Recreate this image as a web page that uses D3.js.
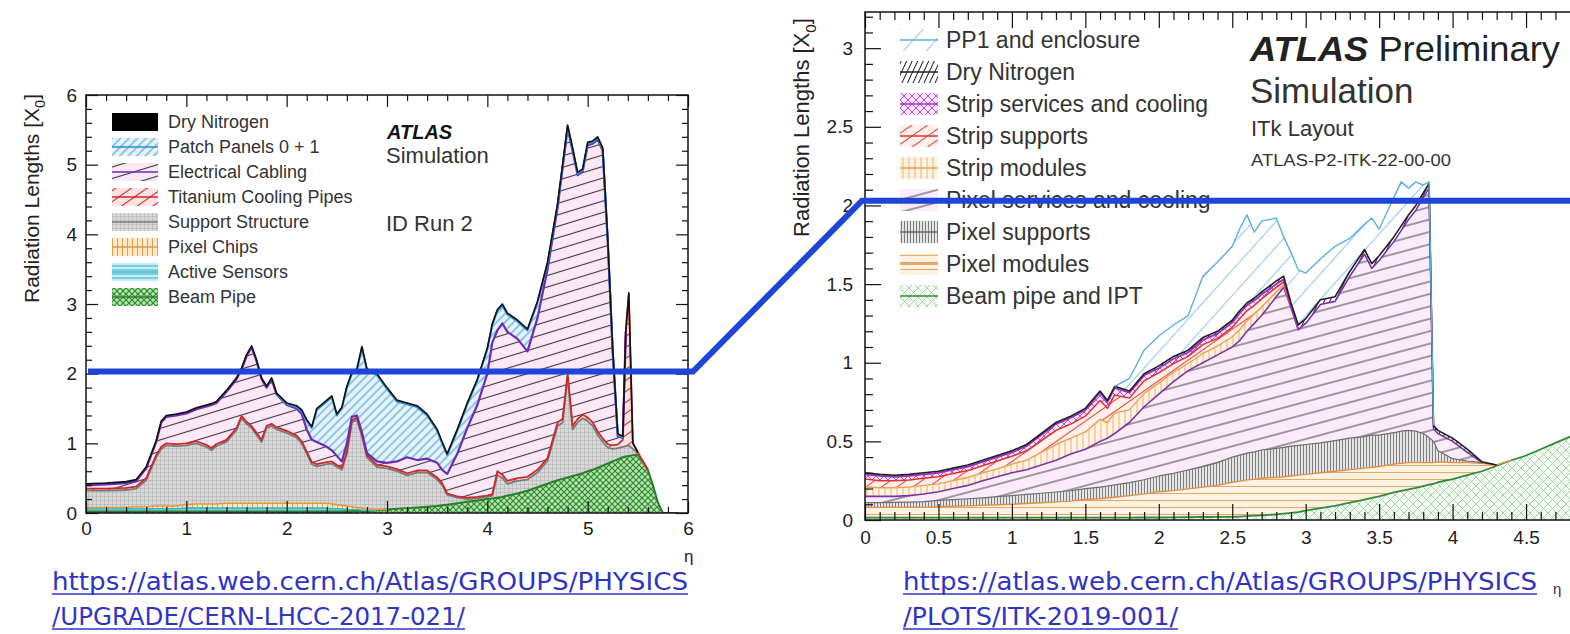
<!DOCTYPE html>
<html><head><meta charset="utf-8">
<script src="https://cdn.jsdelivr.net/npm/d3@7"></script>
<style>
body{margin:0;background:#fff;}
svg{display:block;}
text{font-family:"Liberation Sans",Arial,Helvetica,sans-serif;}
</style>
</head><body>
<svg id="c" width="1570" height="634"></svg>
<script>
// ================= LEFT PANEL DATA (ID Run 2) =================
const etaL = [0,0.2,0.4,0.5,0.6,0.7,0.75,0.8,0.9,1.0,1.1,1.2,1.25,1.3,1.4,1.5,1.55,1.6,1.65,1.7,1.75,1.8,1.85,1.9,2.0,2.1,2.15,2.2,2.25,2.3,2.4,2.45,2.5,2.55,2.6,2.65,2.7,2.75,2.8,2.9,3.0,3.1,3.2,3.3,3.4,3.5,3.55,3.6,3.7,3.8,3.9,4.0,4.05,4.1,4.15,4.2,4.3,4.4,4.5,4.6,4.7,4.75,4.8,4.85,4.9,4.95,5.0,5.05,5.1,5.15,5.2,5.25,5.3,5.35,5.38,5.41,5.45,5.5,5.6,5.65,5.7,5.75,5.9];
const beamPipeL = [.02,.02,.02,.02,.02,.02,.02,.02,.02,.02,.02,.02,.02,.02,.02,.02,.02,.02,.02,.02,.02,.02,.02,.02,.02,.02,.02,.02,.02,.02,.02,.02,.02,.02,.02,.03,.03,.03,.03,.04,.05,.06,.07,.08,.09,.10,.11,.12,.14,.16,.18,.20,.21,.22,.23,.25,.28,.32,.37,.42,.47,.49,.51,.53,.55,.57,.60,.62,.65,.68,.71,.74,.77,.80,.81,.82,.83,.84,.62,.40,.15,0,0];
const activeSensorsL = [.04,.04,.04,.04,.04,.04,.04,.04,.04,.05,.05,.05,.05,.05,.05,.05,.05,.05,.05,.05,.05,.05,.05,.05,.05,.05,.05,.05,.05,.05,.05,.04,.04,.04,.03,.02,.02,.01,.01,0,0,0,0,0,0,0,0,0,0,0,0,0,0,0,0,0,0,0,0,0,0,0,0,0,0,0,0,0,0,0,0,0,0,0,0,0,0,0,0,0,0,0,0];
const pixelChipsL = [.02,.02,.02,.03,.03,.04,.04,.04,.04,.05,.06,.06,.06,.06,.07,.07,.07,.07,.07,.07,.07,.07,.07,.07,.07,.07,.07,.07,.07,.07,.07,.07,.06,.05,.05,.04,.03,.03,.02,.01,0,0,0,0,0,0,0,0,0,0,0,0,0,0,0,0,0,0,0,0,0,0,0,0,0,0,0,0,0,0,0,0,0,0,0,0,0,0,0,0,0,0,0];
const supportStructureL = [.24,.24,.25,.26,.38,.70,.82,.87,.86,.85,.87,.82,.77,.83,.88,1.05,1.22,1.14,1.08,.98,.88,1.08,1.11,1.06,1.01,.94,.86,.71,.56,.53,.56,.58,.54,.51,.75,1.21,1.26,1.03,.74,.61,.59,.54,.47,.50,.49,.38,.29,.14,.08,.04,.03,.03,.04,.33,.27,.17,.18,.16,.21,.33,.78,.81,1.44,.67,.75,.79,.72,.63,.47,.34,.23,.18,.16,.15,.15,.15,.09,.02,0,0,0,0,0];
const tiCoolingL = [.03,.03,.03,.03,.03,.03,.03,.03,.03,.03,.03,.03,.03,.03,.03,.03,.03,.03,.03,.03,.03,.03,.03,.03,.03,.03,.03,.03,.03,.03,.03,.03,.03,.03,.03,.03,.03,.03,.03,.03,.03,.03,.03,.03,.03,.03,.03,.02,.02,.02,.02,.02,.02,.05,.05,.04,.04,.04,.04,.04,.05,.05,.05,.05,.05,.05,.05,.05,.05,.05,.05,.05,.05,.10,1.64,2.17,.08,.01,0,0,0,0,0];
const elecCablingL = [.05,.06,.07,.08,.14,.19,.35,.38,.41,.43,.46,.55,.62,.59,.69,.70,.67,.94,1.13,1.03,.87,.55,.64,.47,.37,.39,.39,.32,.32,.32,.22,.16,.13,.09,.12,.05,.03,.03,.03,.05,.05,.11,.23,.15,.17,.21,.19,.28,.61,1.0,1.32,1.75,2.18,2.02,2.17,2.14,2.0,1.80,2.18,2.71,3.08,3.60,3.52,3.95,3.50,3.49,3.91,4.0,4.19,4.13,2.91,1.33,.12,.03,0,0,0,0,0,0,0,0,0];
const patchPanelsL = [0,0,0,0,0,0,0,0,0,0,0,0,0,0,0,0,0,0,0,0,0,0,0,0,.01,.02,.04,.12,.17,.46,.65,.76,.58,.76,.80,.62,.65,1.21,1.19,1.24,1.06,.86,.76,.76,.62,.46,.38,.27,.33,.34,.35,.35,.25,.28,.26,.25,.25,.30,.22,.08,.04,.03,.03,.02,.02,.02,.02,.02,.02,.02,.02,.02,.02,0,0,0,0,0,0,0,0,0,0];
const dryNitrogenL = [.02,.02,.02,.02,.02,.02,.02,.02,.02,.02,.02,.02,.02,.02,.02,.02,.02,.02,.02,.02,.02,.02,.02,.02,.02,.02,.02,.02,.02,.02,.02,.02,.02,.02,.02,.02,.02,.02,.02,.02,.02,.02,.02,.02,.02,.02,.02,.02,.02,.02,.02,.02,.02,.02,.02,.02,.02,.02,.02,.02,.02,.02,.02,.02,.02,.02,.02,.02,.02,.02,.02,.02,.02,.02,.02,.02,.01,0,0,0,0,0,0];
const legendL = ["Dry Nitrogen","Patch Panels 0 + 1","Electrical Cabling","Titanium Cooling Pipes","Support Structure","Pixel Chips","Active Sensors","Beam Pipe"];
const xTicksL = [0,1,2,3,4,5,6];
const yTicksL = [0,1,2,3,4,5,6];

// ================= RIGHT PANEL DATA (ITk) =================
const etaR = [0,0.1,0.2,0.3,0.4,0.5,0.6,0.7,0.8,0.9,1.0,1.1,1.2,1.3,1.4,1.5,1.6,1.65,1.7,1.8,1.9,2.0,2.1,2.2,2.3,2.4,2.5,2.55,2.6,2.65,2.7,2.8,2.85,2.9,2.95,3.0,3.1,3.2,3.3,3.4,3.45,3.5,3.6,3.65,3.7,3.75,3.8,3.84,3.87,3.9,4.0,4.1,4.2,4.3,4.4,4.5,4.6,4.7,4.8];
const beamPipeR = [.015,.015,.015,.015,.015,.015,.015,.015,.015,.015,.015,.015,.015,.015,.015,.015,.015,.015,.015,.015,.016,.016,.017,.018,.019,.02,.02,.022,.025,.028,.03,.036,.04,.045,.05,.06,.075,.09,.11,.13,.14,.15,.175,.185,.195,.205,.215,.225,.23,.24,.26,.285,.31,.345,.38,.41,.45,.49,.53];
const pixelModulesR = [.065,.065,.065,.065,.065,.07,.072,.075,.078,.082,.085,.09,.095,.10,.105,.115,.12,.125,.13,.14,.15,.164,.17,.18,.19,.20,.22,.225,.23,.23,.235,.235,.235,.235,.235,.23,.225,.22,.21,.2,.195,.19,.18,.175,.17,.16,.15,.14,.135,.13,.105,.08,.05,.005,0,0,0,0,0];
const pixelSupportsR = [.03,.03,.032,.034,.037,.04,.042,.045,.048,.051,.055,.058,.06,.063,.066,.07,.074,.076,.078,.083,.09,.10,.11,.12,.13,.145,.16,.165,.17,.175,.18,.185,.187,.19,.19,.19,.19,.195,.2,.2,.205,.2,.2,.205,.205,.2,.185,.16,.135,.07,.025,.01,.005,0,0,0,0,0,0];
const pixelServicesR = [.04,.04,.038,.041,.048,.055,.071,.085,.109,.127,.145,.157,.18,.202,.234,.25,.291,.304,.327,.382,.464,.52,.583,.632,.661,.685,.70,.728,.775,.817,.855,.964,1.018,.88,.735,.77,.88,.885,1.03,1.16,1.06,1.11,1.215,1.275,1.34,1.405,1.50,1.585,.08,.11,.11,.055,0,0,0,0,0,0,0];
const stripModulesR = [.06,.055,.055,.055,.055,.05,.05,.05,.05,.05,.055,.06,.08,.10,.10,.11,.14,.10,.13,.08,.085,.07,.06,.045,.06,.055,.065,.07,.065,.06,.055,.03,.015,0,0,0,0,0,0,0,0,0,0,0,0,0,0,0,0,0,0,0,0,0,0,0,0,0,0];
const stripSupportsR = [.05,.045,.045,.045,.045,.045,.045,.045,.045,.05,.05,.06,.075,.09,.09,.10,.12,.09,.115,.075,.08,.065,.055,.045,.055,.05,.06,.07,.065,.055,.05,.03,.02,0,0,0,0,0,0,0,0,0,0,0,0,0,0,0,0,0,0,0,0,0,0,0,0,0,0];
const stripServicesR = [.03,.03,.025,.025,.025,.025,.025,.025,.025,.025,.025,.03,.035,.04,.04,.04,.05,.04,.045,.035,.035,.03,.03,.025,.03,.03,.03,.035,.035,.03,.03,.02,.015,.01,0,0,0,0,0,0,0,0,0,0,0,0,0,0,0,0,0,0,0,0,0,0,0,0,0];
const dryNitrogenR = [.01,.01,.01,.01,.01,.01,.01,.01,.01,.01,.01,.01,.01,.01,.01,.01,.01,.01,.01,.01,.01,.015,.015,.015,.015,.015,.015,.015,.015,.015,.015,.02,.02,.02,.03,.03,.03,.03,.03,.03,.03,.03,.03,.03,.03,.03,.03,.03,.02,.02,.02,.02,.005,0,0,0,0,0,0];
const pp1EnclosureR = [0,0,0,0,0,0,0,0,0,0,0,0,0,0,0,0,0,0,0,.08,.15,.19,.20,.22,.39,.44,.47,.52,.56,.42,.45,.40,.25,.32,.35,.29,.26,.32,.21,.16,.29,.17,.25,.28,.17,.15,.05,.01,0,0,0,0,0,0,0,0,0,0,0];
const legendR = ["PP1 and enclosure","Dry Nitrogen","Strip services and cooling","Strip supports","Strip modules","Pixel services and cooling","Pixel supports","Pixel modules","Beam pipe and IPT"];
const xTicksR = [0,0.5,1,1.5,2,2.5,3,3.5,4,4.5];
const yTicksR = [0,0.5,1,1.5,2,2.5,3];

// ================= DRAWING =================
const svg = d3.select("#c");
const defs = svg.append("defs");

function pattern(id, o) {
  const p = defs.append("pattern").attr("id", id).attr("patternUnits", "userSpaceOnUse")
    .attr("width", o.w).attr("height", o.h);
  if (o.rot) p.attr("patternTransform", `rotate(${o.rot})`);
  if (o.bg) p.append("rect").attr("width", o.w).attr("height", o.h).attr("fill", o.bg);
  (o.lines || []).forEach(l => p.append("line")
    .attr("x1", l[0]).attr("y1", l[1]).attr("x2", l[2]).attr("y2", l[3])
    .attr("stroke", l[4] || o.c).attr("stroke-width", o.sw || 1));
}
// left patterns
pattern("pL_dry", {w: 4, h: 4, bg: "#000"});
pattern("pL_patch", {w: 6, h: 6, rot: 45, bg: "#e6f3fb", c: "#4aa0d8", sw: 1.1, lines: [[3,0,3,6]]});
pattern("pL_elec", {w: 14, h: 11, rot: -17, bg: "#fce7f7", c: "#3a3a3a", sw: 1.1, lines: [[0,5.5,14,5.5]]});
pattern("pL_ti", {w: 9, h: 9, rot: -35, bg: "#fde3e3", c: "#c83030", sw: 1.1, lines: [[0,4.5,9,4.5]]});
pattern("pL_sup", {w: 4, h: 4, bg: "#d8d8d8", c: "#a8a8a8", sw: 0.9, lines: [[0,0,0,4],[0,0,4,0]]});
pattern("pL_chips", {w: 5, h: 5, bg: "#fde8c8", c: "#e3a050", sw: 1, lines: [[2.5,0,2.5,5]]});
pattern("pL_act", {w: 5, h: 4, bg: "#c3eef6", c: "#38b2ca", sw: 1, lines: [[0,2,5,2]]});
pattern("pL_beam", {w: 6, h: 6, bg: "#b9e2b2", c: "#2e8b2e", sw: 1.2, lines: [[0,0,6,6],[0,6,6,0]]});
// right patterns
pattern("pR_pp1", {w: 17, h: 17, rot: 42, c: "#8ec8ec", sw: 1, lines: [[8.5,0,8.5,17]]});
pattern("pR_dry", {w: 5, h: 5, rot: 25, c: "#222", sw: 1, lines: [[2.5,0,2.5,5]]});
pattern("pR_sserv", {w: 8, h: 8, bg: "#f5e5fb", c: "#b050d8", sw: 1, lines: [[0,0,8,8],[0,8,8,0]]});
pattern("pR_ssup", {w: 9, h: 9, rot: -35, bg: "#fff0ec", c: "#e04848", sw: 1.1, lines: [[0,4.5,9,4.5]]});
pattern("pR_smod", {w: 6, h: 6, bg: "#fff3e4", c: "#f0b070", sw: 1, lines: [[3,0,3,6]]});
pattern("pR_pserv", {w: 16, h: 12, rot: -15, bg: "#fcecfb", c: "#444", sw: 1, lines: [[0,6,16,6]]});
pattern("pR_psup", {w: 3, h: 6, bg: "#e4e4e4", c: "#808080", sw: 1, lines: [[1.5,0,1.5,6]]});
pattern("pR_pmod", {w: 6, h: 7, bg: "#fff2e3", c: "#e8a868", sw: 1, lines: [[0,3.5,6,3.5]]});
pattern("pR_bp", {w: 9, h: 9, bg: "#f3faf3", c: "#a6d6a6", sw: 1, lines: [[0,0,9,9],[0,9,9,0]]});

const fmt = d3.format("~g");

function drawAxes(g, x, y, o) {
  const [xa, xb] = x.range(), [yb, ya] = y.range();
  const mk = (fn, sc, vals, size, lab, pad) => fn(sc).tickValues(vals).tickSizeInner(-size).tickSizeOuter(0)
    .tickPadding(pad).tickFormat(lab ? fmt : "");
  const add = (tr, ax) => g.append("g").attr("transform", tr).call(ax);
  add(`translate(0,${yb})`, mk(d3.axisBottom, x, o.xMin, o.min, false, 0));
  add(`translate(0,${yb})`, mk(d3.axisBottom, x, o.xMaj, o.maj, true, o.padX));
  add(`translate(0,${ya})`, mk(d3.axisTop, x, o.xMin, o.min, false, 0));
  add(`translate(0,${ya})`, mk(d3.axisTop, x, o.xMaj, o.maj, false, 0));
  add(`translate(${xa},0)`, mk(d3.axisLeft, y, o.yMin, o.min, false, 0));
  add(`translate(${xa},0)`, mk(d3.axisLeft, y, o.yMaj, o.maj, true, o.padY));
  add(`translate(${xb},0)`, mk(d3.axisRight, y, o.yMin, o.min, false, 0));
  add(`translate(${xb},0)`, mk(d3.axisRight, y, o.yMaj, o.maj, false, 0));
  g.selectAll(".domain").remove();
  g.selectAll(".tick line").attr("stroke", "#111").attr("stroke-width", 1.2);
  g.selectAll(".tick text").attr("font-size", o.fs).attr("fill", "#222")
    .style("font-family", '"Liberation Sans",Arial,sans-serif');
  g.append("rect").attr("x", xa).attr("y", ya).attr("width", xb - xa).attr("height", yb - ya)
    .attr("fill", "none").attr("stroke", "#111").attr("stroke-width", 1.5);
}

function drawStack(g, eta, series, keys, style, x, y, clipId) {
  const rows = eta.map((e, i) => { const r = {eta: e}; keys.forEach(k => r[k] = series[k][i]); return r; });
  const st = d3.stack().keys(keys)(rows);
  const area = d3.area().x(d => x(d.data.eta)).y0(d => y(d[0])).y1(d => y(d[1]));
  const gg = g.append("g").attr("clip-path", `url(#${clipId})`);
  st.forEach(s => gg.append("path").attr("d", area(s)).attr("fill", style[s.key].fill).attr("stroke", "none"));
  st.forEach(s => {
    const vals = series[s.key];
    const line = d3.line().x(d => x(d.data.eta)).y(d => y(d[1]))
      .defined((d, i) => style[s.key].always || vals[i] > 0 || vals[i - 1] > 0 || vals[i + 1] > 0);
    gg.append("path").attr("d", line(s)).attr("fill", "none")
      .attr("stroke", style[s.key].line).attr("stroke-width", style[s.key].lw || 1.6)
      .attr("stroke-linejoin", "round");
  });
}

function clip(id, x0, y0, x1, y1) {
  defs.append("clipPath").attr("id", id).append("rect")
    .attr("x", x0).attr("y", y0).attr("width", x1 - x0).attr("height", y1 - y0);
}

function yTitle(xp, yp, fs) {
  const t = svg.append("text").attr("transform", `translate(${xp},${yp}) rotate(-90)`)
    .attr("text-anchor", "end").attr("font-size", fs).attr("fill", "#222");
  t.append("tspan").text("Radiation Lengths [X");
  t.append("tspan").attr("font-size", fs * 0.7).attr("dy", fs * 0.3).text("0");
  t.append("tspan").attr("dy", -fs * 0.3).text("]");
}

// ---------- LEFT ----------
const xL = d3.scaleLinear().domain([0, 6]).range([86, 688]);
const yL = d3.scaleLinear().domain([0, 6]).range([513, 95]);
clip("clipL", 86, 95, 688, 513);
const gL = svg.append("g");
const keysL = ["beam", "active", "chips", "support", "ti", "elec", "patch", "dry"];
const seriesL = {beam: beamPipeL, active: activeSensorsL, chips: pixelChipsL, support: supportStructureL,
  ti: tiCoolingL, elec: elecCablingL, patch: patchPanelsL, dry: dryNitrogenL};
const styleL = {
  beam: {fill: "url(#pL_beam)", line: "#2a7f2a", lw: 2, always: true},
  active: {fill: "url(#pL_act)", line: "#3ab6cc"},
  chips: {fill: "url(#pL_chips)", line: "#e09a40"},
  support: {fill: "url(#pL_sup)", line: "#7a7a7a", lw: 1.8},
  ti: {fill: "url(#pL_ti)", line: "#cc2a2a", lw: 1.8},
  elec: {fill: "url(#pL_elec)", line: "#6a2cb4", lw: 2.2},
  patch: {fill: "url(#pL_patch)", line: "#2a8fd0", lw: 2},
  dry: {fill: "#000", line: "#111", lw: 1.6}
};
drawStack(gL, etaL, seriesL, keysL, styleL, xL, yL, "clipL");
drawAxes(gL, xL, yL, {
  xMaj: xTicksL, xMin: d3.range(0, 6.01, 0.2).filter(v => Math.abs(v - Math.round(v)) > 1e-6),
  yMaj: yTicksL, yMin: d3.range(0, 6.01, 0.2).filter(v => Math.abs(v - Math.round(v)) > 1e-6),
  maj: 12, min: 6, padX: 9, padY: 9, fs: 19
});
yTitle(39, 94, 21);
svg.append("text").attr("x", 684).attr("y", 562).attr("font-size", 17).attr("fill", "#222").text("η");

// left legend
const legKeysL = ["dry", "patch", "elec", "ti", "support", "chips", "active", "beam"];
legendL.forEach((lab, i) => {
  const cy = 122 + i * 25;
  const k = legKeysL[i];
  gL.append("rect").attr("x", 112).attr("y", cy - 9).attr("width", 46).attr("height", 18).attr("fill", styleL[k].fill);
  if (k !== "dry") gL.append("line").attr("x1", 112).attr("x2", 158).attr("y1", cy).attr("y2", cy)
    .attr("stroke", styleL[k].line).attr("stroke-width", 1.6);
  gL.append("text").attr("x", 168).attr("y", cy + 6).attr("font-size", 18).attr("fill", "#333").text(lab);
});
gL.append("text").attr("x", 387).attr("y", 139).attr("font-size", 20).attr("font-weight", "bold")
  .attr("font-style", "italic").attr("fill", "#111").text("ATLAS");
gL.append("text").attr("x", 386).attr("y", 163).attr("font-size", 22).attr("fill", "#333").text("Simulation");
gL.append("text").attr("x", 386).attr("y", 231).attr("font-size", 22).attr("fill", "#333").text("ID Run 2");

// ---------- RIGHT ----------
const xR = d3.scaleLinear().domain([0, 5]).range([865, 865 + 5 * 146.9]);
const yR = d3.scaleLinear().domain([0, 3.23]).range([520, 12]);
clip("clipR", 865, 12, 1570, 520);
const gR = svg.append("g");
const keysR = ["bp", "pmod", "psup", "pserv", "smod", "ssup", "sserv", "dry", "pp1"];
const seriesR = {bp: beamPipeR, pmod: pixelModulesR, psup: pixelSupportsR, pserv: pixelServicesR,
  smod: stripModulesR, ssup: stripSupportsR, sserv: stripServicesR, dry: dryNitrogenR, pp1: pp1EnclosureR};
const styleR = {
  bp: {fill: "url(#pR_bp)", line: "#2f8a3c", lw: 1.8, always: true},
  pmod: {fill: "url(#pR_pmod)", line: "#e09048", lw: 1.4},
  psup: {fill: "url(#pR_psup)", line: "#6e6e6e", lw: 1.2},
  pserv: {fill: "url(#pR_pserv)", line: "#7a34a8", lw: 1.6},
  smod: {fill: "url(#pR_smod)", line: "#f0a050", lw: 1.4},
  ssup: {fill: "url(#pR_ssup)", line: "#e03030", lw: 1.5},
  sserv: {fill: "url(#pR_sserv)", line: "#9a30c8", lw: 1.8},
  dry: {fill: "url(#pR_dry)", line: "#222", lw: 1.6},
  pp1: {fill: "url(#pR_pp1)", line: "#5ab0e0", lw: 1.4}
};
drawStack(gR, etaR, seriesR, keysR, styleR, xR, yR, "clipR");
drawAxes(gR, xR, yR, {
  xMaj: xTicksR, xMin: d3.range(0, 5.001, 0.1).filter(v => Math.abs(v * 2 - Math.round(v * 2)) > 1e-6),
  yMaj: yTicksR, yMin: d3.range(0, 3.2001, 0.1).filter(v => Math.abs(v * 2 - Math.round(v * 2)) > 1e-6),
  maj: 16, min: 8, padX: 11, padY: 12, fs: 19
});
yTitle(809, 18, 22);
svg.append("text").attr("x", 1553).attr("y", 594).attr("font-size", 15).attr("fill", "#333").text("η");

const legKeysR = ["pp1", "dry", "sserv", "ssup", "smod", "pserv", "psup", "pmod", "bp"];
legendR.forEach((lab, i) => {
  const cy = 40 + i * 32;
  const k = legKeysR[i];
  gR.append("rect").attr("x", 900).attr("y", cy - 11).attr("width", 38).attr("height", 22).attr("fill", styleR[k].fill);
  gR.append("line").attr("x1", 900).attr("x2", 938).attr("y1", cy).attr("y2", cy)
    .attr("stroke", styleR[k].line).attr("stroke-width", 1.4);
  gR.append("text").attr("x", 946).attr("y", cy + 8).attr("font-size", 23).attr("fill", "#333").text(lab);
});
const at = gR.append("text").attr("x", 1250).attr("y", 61).attr("font-size", 35).attr("fill", "#222")
  .attr("textLength", 310).attr("lengthAdjust", "spacingAndGlyphs");
at.append("tspan").attr("font-weight", "bold").attr("font-style", "italic").text("ATLAS");
at.append("tspan").text(" Preliminary");
gR.append("text").attr("x", 1250).attr("y", 103).attr("font-size", 35).attr("fill", "#333").text("Simulation");
gR.append("text").attr("x", 1251).attr("y", 136).attr("font-size", 22).attr("fill", "#333").text("ITk Layout");
gR.append("text").attr("x", 1251).attr("y", 166).attr("font-size", 16).attr("fill", "#333")
  .attr("textLength", 200).attr("lengthAdjust", "spacingAndGlyphs").text("ATLAS-P2-ITK-22-00-00");

// ---------- blue annotation lines ----------
const blue = "#1f45d8";
const yl = yL(2.03), yr = yR(2.03);
svg.append("path").attr("d", `M88,${yl} L693,${yl} L862,${yr} L1570,${yr}`)
  .attr("fill", "none").attr("stroke", blue).attr("stroke-width", 6).attr("stroke-linejoin", "miter");

// ---------- URLs ----------
function url(x0, y0, str, len) {
  svg.append("text").attr("x", x0).attr("y", y0).attr("font-size", 24).attr("fill", "#3034c4")
    .style("font-family", '"DejaVu Sans Condensed","DejaVu Sans",sans-serif')
    .attr("textLength", len).attr("lengthAdjust", "spacingAndGlyphs").text(str);
  svg.append("line").attr("x1", x0).attr("x2", x0 + len).attr("y1", y0 + 4).attr("y2", y0 + 4)
    .attr("stroke", "#3034c4").attr("stroke-width", 1.5);
}
url(52, 590, "https://atlas.web.cern.ch/Atlas/GROUPS/PHYSICS", 636);
url(52, 625, "/UPGRADE/CERN-LHCC-2017-021/", 413);
url(903, 590, "https://atlas.web.cern.ch/Atlas/GROUPS/PHYSICS", 634);
url(903, 625, "/PLOTS/ITK-2019-001/", 275);
</script>
</body></html>
